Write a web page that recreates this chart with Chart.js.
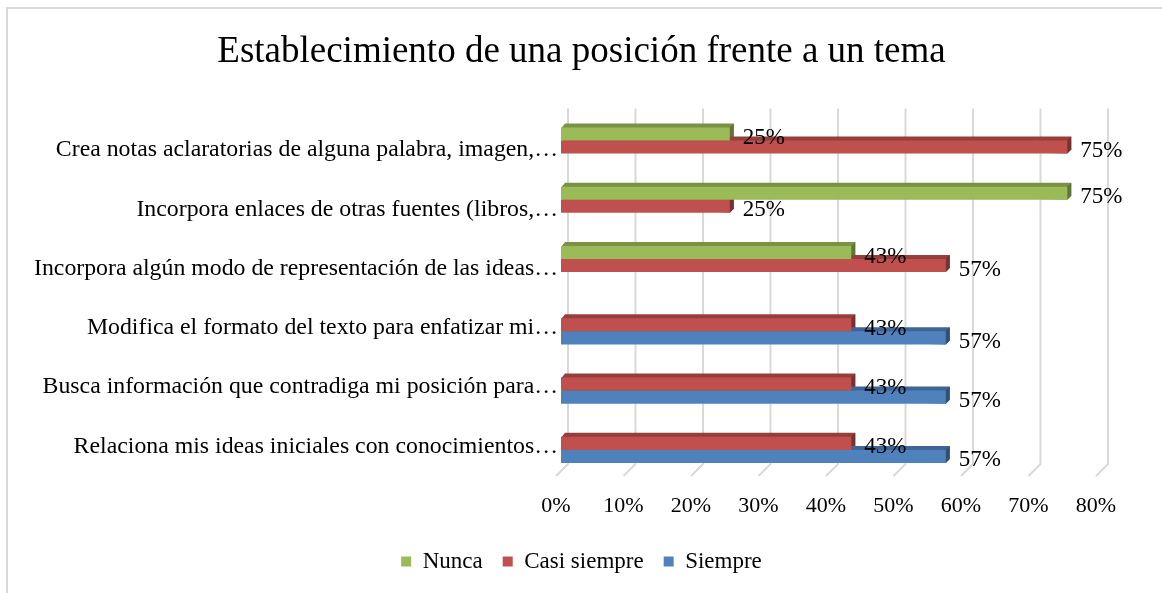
<!DOCTYPE html>
<html>
<head>
<meta charset="utf-8">
<script src="https://cdn.jsdelivr.net/npm/chart.js@4.4.0/dist/chart.umd.min.js"></script>
<style>
  html, body { margin: 0; padding: 0; background: #fff; }
  #wrap { position: relative; width: 1162px; height: 593px; }
  #frame { position: absolute; left: 6px; top: 7px; right: -4px; bottom: -4px; border-left: 2px solid #d9d9d9; border-top: 2px solid #d9d9d9; }
  canvas { position: absolute; left: 0; top: 0; }
</style>
</head>
<body>
<div id="wrap">
  <div id="frame"></div>
  <canvas id="myChart" width="1162" height="593"></canvas>
</div>
<script>
const categories = [
    'Crea notas aclaratorias de alguna palabra, imagen,…',
    'Incorpora enlaces de otras fuentes (libros,…',
    'Incorpora algún modo de representación de las ideas…',
    'Modifica el formato del texto para enfatizar mi…',
    'Busca información que contradiga mi posición para…',
    'Relaciona mis ideas iniciales con conocimientos…'
];
const nunca = [25, 75, 43, null, null, null];
const casiSiempre = [75, 25, 57, 43, 43, 43];
const siempre = [null, null, null, 57, 57, 57];
const xTicks = [0, 10, 20, 30, 40, 50, 60, 70, 80];

const serif = '"Liberation Serif", "Times New Roman", serif';

// darker shades for the fake 3d top and side faces
function shade(hex, f) {
    const n = parseInt(hex.slice(1), 16);
    const r = Math.round(((n >> 16) & 255) * f);
    const g = Math.round(((n >> 8) & 255) * f);
    const b = Math.round((n & 255) * f);
    return 'rgb(' + r + ',' + g + ',' + b + ')';
}

const depth = 4;

const bar3d = {
    id: 'bar3d',
    beforeDatasetsDraw(chart) {
        const ctx = chart.ctx;
        const x = chart.scales.x;
        const area = chart.chartArea;
        ctx.save();
        // back wall grid lines + slanted floor
        ctx.strokeStyle = '#d9d9d9';
        ctx.lineWidth = 2;
        xTicks.forEach(v => {
            const px = x.getPixelForValue(v);
            ctx.beginPath();
            ctx.moveTo(px + 7, area.top - 9);
            ctx.lineTo(px + 7, area.bottom - 9);
            ctx.lineTo(px - 5, area.bottom + 3);
            ctx.stroke();
        });
        // top and side faces, drawn behind so the bar above covers them
        chart.data.datasets.forEach((ds, i) => {
            const meta = chart.getDatasetMeta(i);
            meta.data.forEach((el, j) => {
                if (ds.data[j] == null) return;
                const top = el.y - el.height / 2;
                const bot = el.y + el.height / 2;
                const l = el.base;
                const r = el.x;
                ctx.fillStyle = shade(ds.backgroundColor, 0.78);
                ctx.beginPath();
                ctx.moveTo(l, top + 1);
                ctx.lineTo(l + depth, top - depth);
                ctx.lineTo(r + depth, top - depth);
                ctx.lineTo(r + depth, bot - depth);
                ctx.lineTo(r, bot);
                ctx.closePath();
                ctx.fill();
                ctx.fillStyle = shade(ds.backgroundColor, 0.62);
                ctx.beginPath();
                ctx.moveTo(r, top);
                ctx.lineTo(r + depth, top - depth);
                ctx.lineTo(r + depth, bot - depth);
                ctx.lineTo(r, bot);
                ctx.closePath();
                ctx.fill();
            });
        });
        ctx.restore();
    },
    afterDatasetsDraw(chart) {
        const ctx = chart.ctx;
        ctx.save();
        ctx.fillStyle = '#000';
        ctx.font = '23px ' + serif;
        ctx.textBaseline = 'middle';
        ctx.textAlign = 'left';
        chart.data.datasets.forEach((ds, i) => {
            const meta = chart.getDatasetMeta(i);
            meta.data.forEach((el, j) => {
                if (ds.data[j] == null) return;
                ctx.fillText(ds.data[j] + '%', el.x + 13, el.y + 4);
            });
        });
        ctx.restore();
    }
};

const ctx = document.getElementById('myChart').getContext('2d');
const chart = new Chart(ctx, {
    type: 'bar',
    data: {
        labels: categories,
        datasets: [
            { label: 'Nunca', data: nunca, backgroundColor: '#9bbb59' },
            { label: 'Casi siempre', data: casiSiempre, backgroundColor: '#c0504d' },
            { label: 'Siempre', data: siempre, backgroundColor: '#4f81bd' }
        ]
    },
    options: {
        indexAxis: 'y',
        responsive: false,
        animation: false,
        layout: { padding: { left: 8, right: 7, top: 0, bottom: 10 } },
        datasets: {
            bar: { categoryPercentage: 0.66, barPercentage: 1 }
        },
        scales: {
            x: {
                min: 0,
                max: 88,
                afterBuildTicks: scale => { scale.ticks = xTicks.map(v => ({ value: v })); },
                afterFit: scale => { scale.height = 57; },
                grid: { display: false },
                border: { display: false },
                ticks: {
                    padding: 12,
                    labelOffset: -5,
                    color: '#000',
                    font: { family: serif, size: 22 },
                    callback: v => v + '%'
                }
            },
            y: {
                afterFit: scale => { scale.width = 553; },
                grid: { display: false },
                border: { display: false },
                ticks: {
                    padding: -5,
                    labelOffset: 3,
                    color: '#000',
                    font: { family: serif, size: 23.8 }
                }
            }
        },
        plugins: {
            title: {
                display: true,
                text: 'Establecimiento de una posición frente a un tema',
                color: '#000',
                font: { family: serif, size: 37, weight: 'normal' },
                padding: { top: 30, bottom: 43 }
            },
            legend: {
                position: 'bottom',
                labels: {
                    color: '#000',
                    font: { family: serif, size: 23 },
                    boxWidth: 10,
                    boxHeight: 10,
                    padding: 20
                }
            },
            tooltip: { enabled: false }
        }
    },
    plugins: [bar3d]
});
</script>
</body>
</html>
